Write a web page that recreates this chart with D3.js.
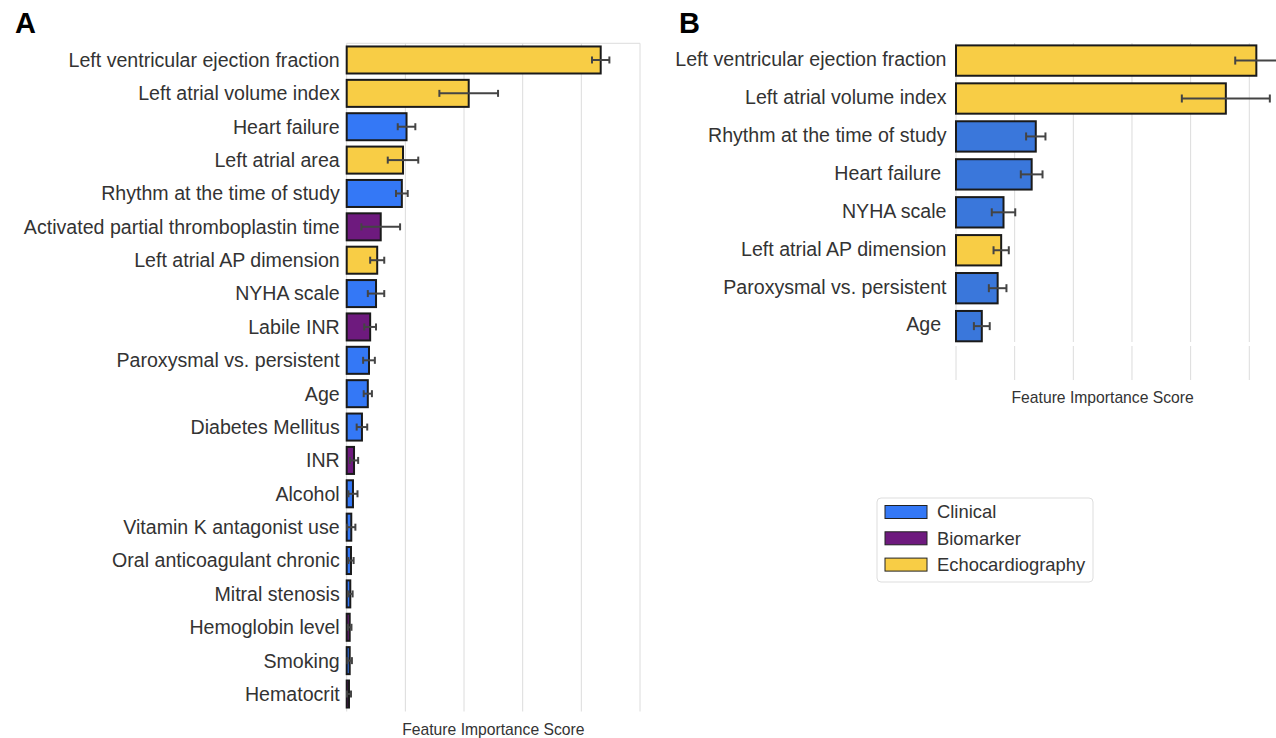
<!DOCTYPE html>
<html>
<head>
<meta charset="utf-8">
<script src="https://cdn.jsdelivr.net/npm/d3@7"></script>
<style>
  body { margin: 0; background: #fff; }
  svg { display: block; font-family: "Liberation Sans", Arial, sans-serif; }
  .ylab { white-space: pre; }
</style>
</head>
<body>
<div id="chart"></div>
<script>
// Panel A : toutes les variables
const featuresA = [
  "Left ventricular ejection fraction", "Left atrial volume index", "Heart failure",
  "Left atrial area", "Rhythm at the time of study", "Activated partial thromboplastin time",
  "Left atrial AP dimension", "NYHA scale", "Labile INR", "Paroxysmal vs. persistent",
  "Age", "Diabetes Mellitus", "INR", "Alcohol", "Vitamin K antagonist use",
  "Oral anticoagulant chronic", "Mitral stenosis", "Hemoglobin level", "Smoking", "Hematocrit"
];
const groupsA = [
  "Echocardiography", "Echocardiography", "Clinical", "Echocardiography", "Clinical", "Biomarker",
  "Echocardiography", "Clinical", "Biomarker", "Clinical", "Clinical", "Clinical", "Biomarker",
  "Clinical", "Clinical", "Clinical", "Clinical", "Biomarker", "Clinical", "Biomarker"
];
const scoresA = [0.0433, 0.0208, 0.0102, 0.0096, 0.0094, 0.0058, 0.0052, 0.0050, 0.0040, 0.0038,
  0.0036, 0.0026, 0.00125, 0.00107, 0.00078, 0.00073, 0.00061, 0.00051, 0.00051, 0.00039];
const errorsA = [0.00148, 0.0050, 0.0015, 0.0026, 0.0010, 0.0033, 0.0012, 0.0014, 0.0010, 0.0010,
  0.0007, 0.0009, 0.0007, 0.00077, 0.0007, 0.00045, 0.0004, 0.0003, 0.00038, 0.00034];

// Panel B : sous-ensemble
const featuresB = [
  "Left ventricular ejection fraction", "Left atrial volume index", "Rhythm at the time of study",
  "Heart failure ", "NYHA scale", "Left atrial AP dimension", "Paroxysmal vs. persistent", "Age "
];
const groupsB = ["Echocardiography", "Echocardiography", "Clinical", "Clinical", "Clinical",
  "Echocardiography", "Clinical", "Clinical"];
const scoresB = [0.0512, 0.0460, 0.0136, 0.0129, 0.0081, 0.0077, 0.0071, 0.0044];
const errorsB = [0.0036, 0.0075, 0.00165, 0.00185, 0.0020, 0.0013, 0.0015, 0.00135];

const gridTicks = [0, 0.01, 0.02, 0.03, 0.04, 0.05];
const legendGroups = ["Clinical", "Biomarker", "Echocardiography"];

const colorsA = { Clinical: "#3478f6", Biomarker: "#6e1a7e", Echocardiography: "#f8cd45" };
const colorsB = { Clinical: "#3a77db", Biomarker: "#6e1a7e", Echocardiography: "#f8cd45" };

const svg = d3.select("#chart").append("svg")
  .attr("width", 1276).attr("height", 738);

function panel(opts) {
  const { features, groups, scores, errors, colors, x0, x1, domainMax, y0, y1, gridBottom, letter, letterX, labelY } = opts;
  const data = features.map((f, i) => ({ f, g: groups[i], v: scores[i], e: errors[i] }));

  const x = d3.scaleLinear().domain([0, domainMax]).range([x0, x1]);
  const y = d3.scaleBand().domain(features).range([y0, y1])
    .paddingInner(opts.pad).paddingOuter(opts.pad / 2);

  const g = svg.append("g");

  // grille verticale
  const grid = g.append("g").attr("stroke", "#dcdcdc").attr("stroke-width", 1);
  (opts.gridSegments || [[y0, gridBottom]]).forEach(([a, b]) => {
    grid.selectAll(null).data(gridTicks).join("line")
      .attr("x1", d => x(d)).attr("x2", d => x(d))
      .attr("y1", a).attr("y2", b);
  });
  if (opts.topSpine) {
    grid.append("line").attr("x1", x(0)).attr("x2", x(0.05))
      .attr("y1", y0).attr("y2", y0);
  }

  // barres
  g.append("g").selectAll("rect").data(data).join("rect")
    .attr("x", x(0))
    .attr("y", d => y(d.f))
    .attr("width", d => x(d.v) - x(0))
    .attr("height", y.bandwidth())
    .attr("fill", d => colors[d.g])
    .attr("stroke", "#1a1a1a")
    .attr("stroke-width", 2);

  // barres d'erreur
  const cap = opts.cap;
  const eb = g.append("g").attr("stroke", "#444").attr("stroke-width", 2);
  data.forEach(d => {
    const cy = y(d.f) + y.bandwidth() / 2;
    const l = x(d.v - d.e), r = x(d.v + d.e);
    eb.append("line").attr("x1", l).attr("x2", r).attr("y1", cy).attr("y2", cy);
    eb.append("line").attr("x1", l).attr("x2", l).attr("y1", cy - cap).attr("y2", cy + cap);
    eb.append("line").attr("x1", r).attr("x2", r).attr("y1", cy - cap).attr("y2", cy + cap);
  });

  // étiquettes des variables
  g.append("g").selectAll("text").data(data).join("text")
    .attr("class", "ylab")
    .attr("x", x0 - opts.labelGap)
    .attr("y", d => y(d.f) + y.bandwidth() / 2 + opts.labelShift)
    .attr("dy", "0.35em")
    .attr("text-anchor", "end")
    .attr("font-size", 19.6)
    .attr("fill", "#333")
    .text(d => d.f);

  // titre de l'axe
  g.append("text")
    .attr("x", (x(0) + x(0.05)) / 2)
    .attr("y", labelY)
    .attr("text-anchor", "middle")
    .attr("font-size", 15.7)
    .attr("fill", "#333")
    .text("Feature Importance Score");

  // lettre du panneau
  svg.append("text")
    .attr("x", letterX).attr("y", 33)
    .attr("font-size", 29).attr("font-weight", "bold")
    .attr("fill", "#000")
    .text(letter);
}

panel({
  features: featuresA, groups: groupsA, scores: scoresA, errors: errorsA, colors: colorsA,
  x0: 346.7, x1: 640, domainMax: 0.05, y0: 43.3, y1: 710.7, gridBottom: 711.5,
  pad: 0.19, cap: 3.5, letter: "A", letterX: 15, labelY: 735, topSpine: true,
  labelShift: 0, labelGap: 7
});

panel({
  features: featuresB, groups: groupsB, scores: scoresB, errors: errorsB, colors: colorsB,
  x0: 956, x1: 1249.3, domainMax: 0.05, y0: 41.6, y1: 345.1, gridBottom: 380,
  gridSegments: [[43, 342], [346, 380]],
  pad: 0.2, cap: 4, letter: "B", letterX: 679, labelY: 403,
  labelShift: -1.5, labelGap: 9.5
});

// légende
const leg = svg.append("g").attr("transform", "translate(877,498)");
leg.append("rect").attr("width", 216).attr("height", 84).attr("rx", 4)
  .attr("fill", "#fff").attr("stroke", "#dddddd").attr("stroke-width", 1);
legendGroups.forEach((name, i) => {
  const cy = 14 + i * 26.3;
  leg.append("rect").attr("x", 8).attr("y", cy - 6.5).attr("width", 42).attr("height", 13)
    .attr("fill", colorsA[name]).attr("stroke", "#222").attr("stroke-width", 1);
  leg.append("text").attr("x", 60).attr("y", cy).attr("dy", "0.35em")
    .attr("font-size", 18.4).attr("fill", "#333").text(name);
});
</script>
</body>
</html>
